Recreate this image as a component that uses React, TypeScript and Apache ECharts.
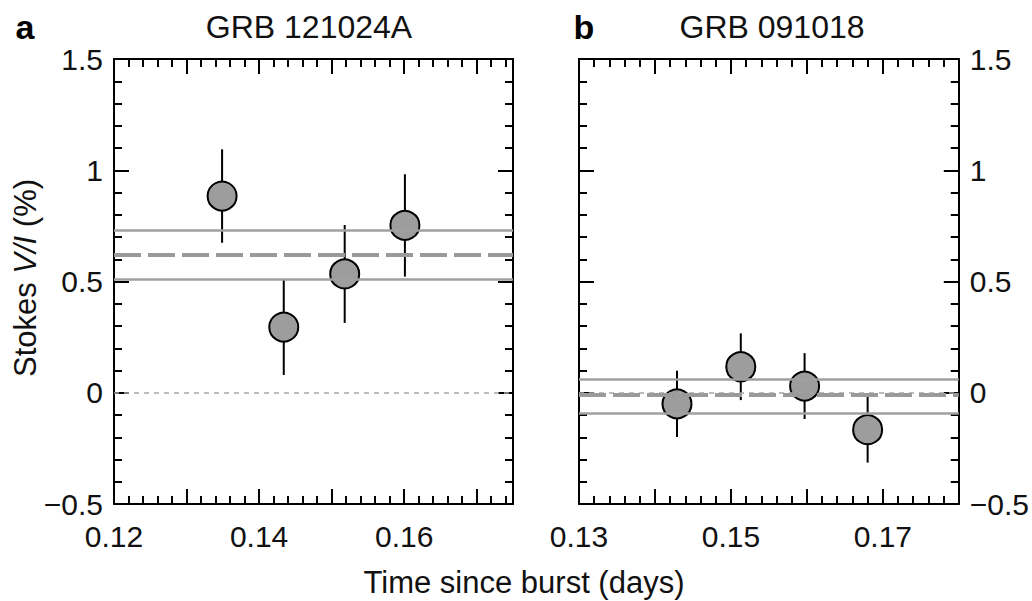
import React, { useEffect, useRef } from 'react';
import * as echarts from 'echarts';

// Panel a: GRB 121024A
const timeA = [0.1349, 0.1434, 0.1518, 0.1601];
const stokesA = [0.884, 0.295, 0.534, 0.752];
const errA = [0.21, 0.215, 0.22, 0.23];
const meanA = 0.616;
const upperA = 0.727;
const lowerA = 0.507;

// Panel b: GRB 091018
const timeB = [0.1429, 0.1513, 0.1597, 0.168];
const stokesB = [-0.05, 0.117, 0.03, -0.166];
const errB = [0.149, 0.15, 0.148, 0.148];
const meanB = -0.012;
const upperB = 0.06;
const lowerB = -0.092;

const xLabelsA = [0.12, 0.14, 0.16];
const xLabelsB = [0.13, 0.15, 0.17];
const yLabels = [-0.5, 0, 0.5, 1, 1.5];

const FONT = "'Liberation Sans', Arial, Helvetica, sans-serif";
const TICK_FS = 30;

const fmtNum = (v: number) => String(v).replace('-', '\u2212');

const inList = (list: number[], v: number) => list.some((t) => Math.abs(t - v) < 1e-6);

function axisBase(extra: any) {
  return {
    type: 'value',
    axisLine: { show: true, onZero: false, lineStyle: { color: '#000', width: 2 } },
    axisTick: { show: true, inside: true, length: 15, lineStyle: { color: '#000', width: 2 } },
    minorTick: { show: true, splitNumber: 5, length: 8, lineStyle: { color: '#000', width: 2 } },
    splitLine: { show: false },
    minorSplitLine: { show: false },
    ...extra,
  };
}

function xAxis(grid: number, pos: string, min: number, max: number, labels: number[] | null) {
  return axisBase({
    gridIndex: grid,
    position: pos,
    min,
    max,
    interval: 0.01,
    axisLabel: labels
      ? {
          show: true,
          margin: 17,
          color: '#111',
          fontSize: TICK_FS,
          fontFamily: FONT,
          formatter: (v: number) => (inList(labels, v) ? v.toFixed(2) : ''),
        }
      : { show: false },
  });
}

function yAxis(grid: number, pos: string, showLabels: boolean) {
  return axisBase({
    gridIndex: grid,
    position: pos,
    min: -0.5,
    max: 1.5,
    interval: 0.5,
    axisLabel: showLabels
      ? {
          show: true,
          margin: 11,
          color: '#111',
          fontSize: TICK_FS,
          fontFamily: FONT,
          formatter: (v: number) => (inList(yLabels, v) ? fmtNum(v) : ''),
        }
      : { show: false },
  });
}

function errorSeries(idx: number, time: number[], val: number[], err: number[], mean: number, up: number, lo: number) {
  return {
    type: 'custom',
    xAxisIndex: idx * 2,
    yAxisIndex: idx * 2,
    z: 2,
    silent: true,
    data: time.map((t, i) => [t, val[i] - err[i], val[i] + err[i]]),
    encode: { x: 0, y: [1, 2] },
    renderItem: (params: any, api: any) => {
      const x = api.value(0);
      const p1 = api.coord([x, api.value(1)]);
      const p2 = api.coord([x, api.value(2)]);
      return {
        type: 'line',
        shape: { x1: p1[0], y1: p1[1], x2: p2[0], y2: p2[1] },
        style: { stroke: '#000', lineWidth: 2 },
      };
    },
    markLine: {
      silent: true,
      symbol: ['none', 'none'],
      label: { show: false },
      emphasis: { disabled: true },
      data: [
        { yAxis: 0, lineStyle: { type: [5, 5], width: 1.5, color: '#a8a8a8' } },
        { yAxis: up, lineStyle: { type: 'solid', width: 2.5, color: '#a0a0a0' } },
        { yAxis: lo, lineStyle: { type: 'solid', width: 2.5, color: '#a0a0a0' } },
        { yAxis: mean, lineStyle: { type: [27, 7], width: 4, color: '#9a9a9a' } },
      ],
    },
  };
}

function pointSeries(idx: number, time: number[], val: number[]) {
  return {
    type: 'scatter',
    xAxisIndex: idx * 2,
    yAxisIndex: idx * 2,
    z: 4,
    symbol: 'circle',
    symbolSize: 29,
    itemStyle: { color: '#9d9d9d', borderColor: '#000', borderWidth: 2, opacity: 1 },
    data: time.map((t, i) => [t, val[i]]),
  };
}

export default function App() {
  const ref = useRef<HTMLDivElement>(null);
  useEffect(() => {
    if (!ref.current) return;
    const chart = echarts.init(ref.current, null, { renderer: 'svg' });
    const option: any = {
      animation: false,
      backgroundColor: '#fff',
      grid: [
        { left: 114, top: 59, width: 399, height: 445 },
        { left: 579, top: 59, width: 381, height: 445 },
      ],
      xAxis: [
        xAxis(0, 'bottom', 0.12, 0.175, xLabelsA),
        xAxis(0, 'top', 0.12, 0.175, null),
        xAxis(1, 'bottom', 0.13, 0.18, xLabelsB),
        xAxis(1, 'top', 0.13, 0.18, null),
      ],
      yAxis: [
        yAxis(0, 'left', true),
        yAxis(0, 'right', false),
        yAxis(1, 'left', false),
        yAxis(1, 'right', true),
      ],
      series: [
        errorSeries(0, timeA, stokesA, errA, meanA, upperA, lowerA),
        pointSeries(0, timeA, stokesA),
        errorSeries(1, timeB, stokesB, errB, meanB, upperB, lowerB),
        pointSeries(1, timeB, stokesB),
      ],
      graphic: [
        { type: 'text', x: 25, y: 27, style: { text: 'a', fontFamily: FONT, fontSize: 34, fontWeight: 'bold', fill: '#000', align: 'center', verticalAlign: 'middle' } },
        { type: 'text', x: 584, y: 27, style: { text: 'b', fontFamily: FONT, fontSize: 34, fontWeight: 'bold', fill: '#000', align: 'center', verticalAlign: 'middle' } },
        { type: 'text', x: 309, y: 27, style: { text: 'GRB 121024A', fontFamily: FONT, fontSize: 32, fill: '#111', align: 'center', verticalAlign: 'middle' } },
        { type: 'text', x: 772, y: 27, style: { text: 'GRB 091018', fontFamily: FONT, fontSize: 32, fill: '#111', align: 'center', verticalAlign: 'middle' } },
        { type: 'text', x: 524, y: 582, style: { text: 'Time since burst (days)', fontFamily: FONT, fontSize: 31, fill: '#111', align: 'center', verticalAlign: 'middle' } },
        {
          type: 'text',
          x: 25,
          y: 278,
          rotation: Math.PI / 2,
          style: {
            text: 'Stokes {i|V/I} (%)',
            fontFamily: FONT,
            fontSize: 31,
            fill: '#111',
            align: 'center',
            verticalAlign: 'middle',
            rich: { i: { fontStyle: 'italic', fontFamily: FONT, fontSize: 31, fill: '#111' } },
          },
        },
      ],
    };
    chart.setOption(option);
    return () => chart.dispose();
  }, []);
  return <div ref={ref} style={{ position: 'fixed', left: 0, top: 0, width: 1032, height: 601 }} />;
}
